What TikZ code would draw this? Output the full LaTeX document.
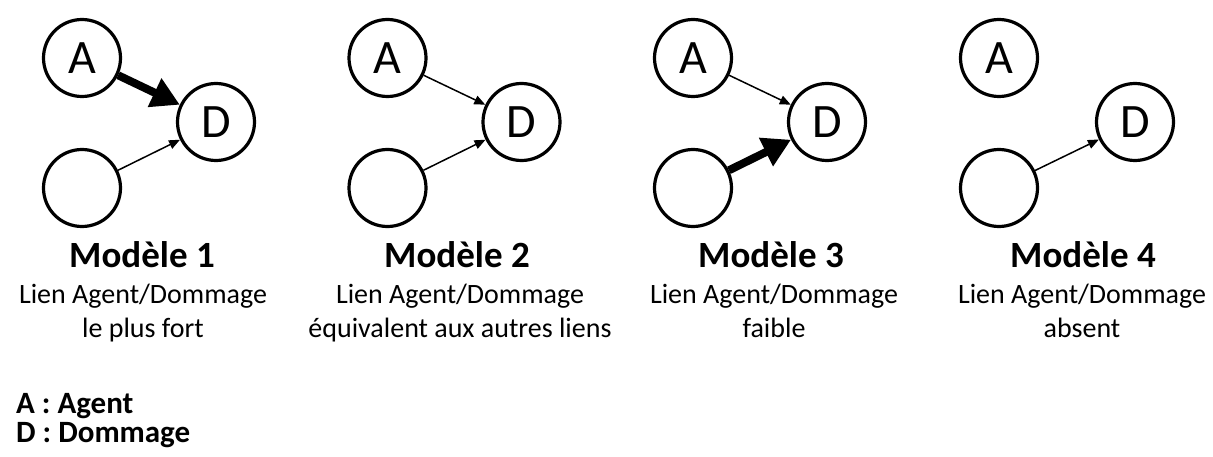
\documentclass[tikz,border=0pt]{standalone}
\usepackage{fontspec}
\setmainfont{Carlito}
\usetikzlibrary{arrows.meta}
\begin{document}
\begin{tikzpicture}[x=1pt,y=-1pt,
  nd/.style={circle,draw,line width=3.2pt,minimum size=77pt,inner sep=0pt,
    font=\fontsize{48}{52}\selectfont},
  weak/.style={line width=1.5pt,-{Triangle[length=11pt,width=9pt]}},
  strong/.style={line width=8pt,-{Triangle[length=28pt,width=30pt]}},
  title/.style={anchor=base,inner sep=0pt,font=\fontsize{37}{42}\bfseries\selectfont},
  caption/.style={anchor=base,inner sep=0pt,font=\fontsize{28}{34}\selectfont},
  legend/.style={anchor=base west,inner sep=0pt,font=\fontsize{31}{34}\bfseries\selectfont}]
\useasboundingbox (0,0) rectangle (1213,457);

% Modèle 1: strong agent link
\node[nd] (A1) at (82,58) {A};
\node[nd] (D1) at (216,122) {D};
\node[nd] (E1) at (82,188) {};
\draw[strong] (A1) -- (D1);
\draw[weak] (E1) -- (D1);

% Modèle 2: equal links
\node[nd] (A2) at (387.5,58) {A};
\node[nd] (D2) at (521.5,122) {D};
\node[nd] (E2) at (387.5,188) {};
\draw[weak] (A2) -- (D2);
\draw[weak] (E2) -- (D2);

% Modèle 3: weak agent link
\node[nd] (A3) at (693,58) {A};
\node[nd] (D3) at (827,122) {D};
\node[nd] (E3) at (693,188) {};
\draw[weak] (A3) -- (D3);
\draw[strong] (E3) -- (D3);

% Modèle 4: no agent link
\node[nd] (A4) at (999,58) {A};
\node[nd] (D4) at (1135,122) {D};
\node[nd] (E4) at (999,188) {};
\draw[weak] (E4) -- (D4);

% Captions
\node[title] (T1) at (142,267) {Modèle 1};
\node[caption] (C1a) at (143,303) {Lien Agent/Dommage};
\node[caption] (C1b) at (143,337) {le plus fort};

\node[title] (T2) at (457,267) {Modèle 2};
\node[caption] (C2a) at (460,303) {Lien Agent/Dommage};
\node[caption] (C2b) at (460,337) {équivalent aux autres liens};

\node[title] (T3) at (771,267) {Modèle 3};
\node[caption] (C3a) at (774,303) {Lien Agent/Dommage};
\node[caption] (C3b) at (774,337) {faible};

\node[title] (T4) at (1083,267) {Modèle 4};
\node[caption] (C4a) at (1082,303) {Lien Agent/Dommage};
\node[caption] (C4b) at (1082,337) {absent};

% Legend
\node[legend] (L1) at (16,413) {A : Agent};
\node[legend] (L2) at (16,442) {D : Dommage};
\end{tikzpicture}
\end{document}
